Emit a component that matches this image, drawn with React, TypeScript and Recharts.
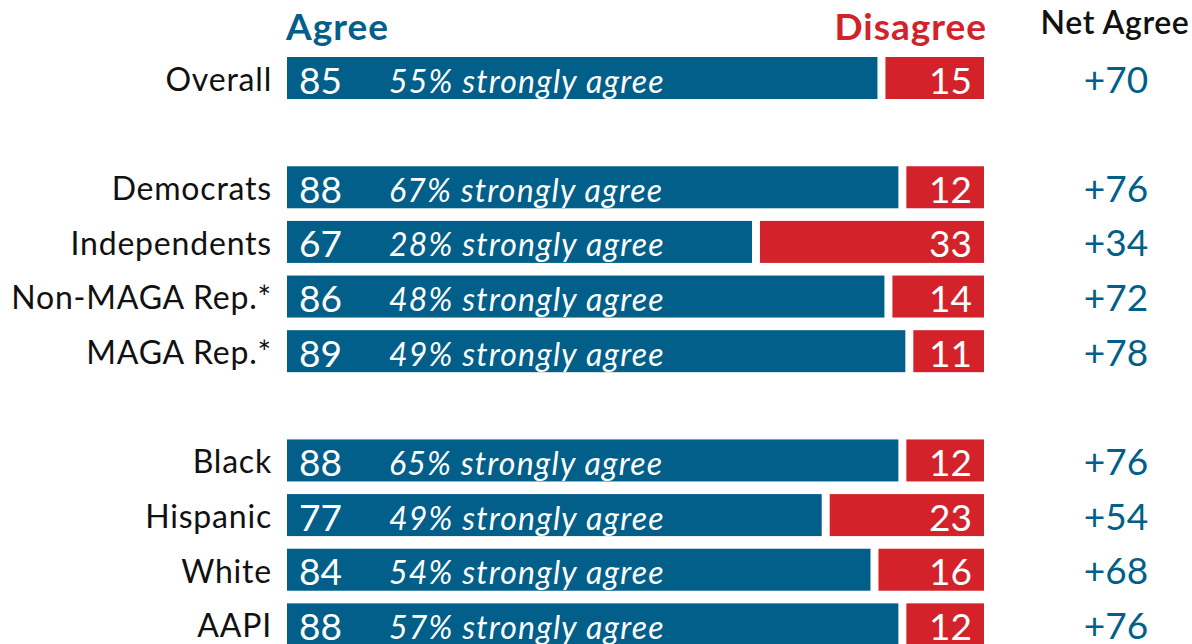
import React from "react";
import { BarChart, Bar, XAxis, YAxis, LabelList } from "recharts";

const categories = ["Overall", "", "Democrats", "Independents", "Non-MAGA Rep.*", "MAGA Rep.*", "", "Black", "Hispanic", "White", "AAPI"];
const agreeValues = [85, null, 88, 67, 86, 89, null, 88, 77, 84, 88];
const disagreeValues = [15, null, 12, 33, 14, 11, null, 12, 23, 16, 12];
const stronglyAgree = [55, null, 67, 28, 48, 49, null, 65, 49, 54, 57];
const netAgree = [70, null, 76, 34, 72, 78, null, 76, 54, 68, 76];

const BLUE = "#025f8a";
const RED = "#d32229";
const FONT = "Lato, 'Open Sans', sans-serif";

const data = categories.map((c, i) => ({
  key: c === "" ? `gap${i}` : c,
  label: c,
  agree: agreeValues[i],
  disagree: disagreeValues[i],
  strong: stronglyAgree[i],
  net: netAgree[i],
}));

const AgreeShape = (props: any) => {
  const { x, y, width, height } = props;
  if (!width || width <= 0) return null;
  return <rect x={x} y={y} width={Math.max(0, width - 2)} height={height} fill={BLUE} />;
};

const DisagreeShape = (props: any) => {
  const { x, y, width, height } = props;
  if (!width || width <= 0) return null;
  return <rect x={x + 6} y={y} width={Math.max(0, width - 6)} height={height} fill={RED} />;
};

const CatTick = (props: any) => {
  const { x, y, payload } = props;
  const row = data.find((d) => d.key === payload.value);
  const label = row ? row.label : "";
  return (
    <text x={x - 7} y={y} textAnchor="end" dominantBaseline="central" fontFamily={FONT} fontSize={32} letterSpacing={0.8} fill="#111">
      {label}
    </text>
  );
};

const AgreeLabel = (props: any) => {
  const { x, y, height, value, index } = props;
  if (value == null) return null;
  const cy = y + height / 2;
  return (
    <g>
      <text x={x + 12} y={cy + 1} textAnchor="start" dominantBaseline="central" fontFamily={FONT} fontSize={37} fill="#fff">
        {value}
      </text>
      <text x={x + 102} y={cy + 2} textAnchor="start" dominantBaseline="central" fontFamily={FONT} fontStyle="italic" fontSize={32} letterSpacing={1.2} fill="#fff">
        {`${data[index].strong}% strongly agree`}
      </text>
    </g>
  );
};

const DisagreeLabel = (props: any) => {
  const { x, y, width, height, value, index } = props;
  if (value == null) return null;
  const cy = y + height / 2;
  return (
    <g>
      <text x={x + width - 12} y={cy + 1} textAnchor="end" dominantBaseline="central" fontFamily={FONT} fontSize={37} fill="#fff">
        {value}
      </text>
      <text x={x + width + 132} y={cy} textAnchor="middle" dominantBaseline="central" fontFamily={FONT} fontSize={37} fill={BLUE}>
        {`+${data[index].net}`}
      </text>
    </g>
  );
};

export default function App() {
  return (
    <div style={{ position: "absolute", left: 0, top: 0, width: 1192, height: 660, background: "#fff" }}>
      <div style={{ position: "absolute", left: 286, top: 3, fontFamily: FONT, fontWeight: 700, fontSize: 37, letterSpacing: 1, color: BLUE, lineHeight: "46px" }}>Agree</div>
      <div style={{ position: "absolute", right: 1192 - 987, top: 3, fontFamily: FONT, fontWeight: 700, fontSize: 37, letterSpacing: 1, color: RED, lineHeight: "46px" }}>Disagree</div>
      <div style={{ position: "absolute", left: 1015, width: 200, textAlign: "center", top: 1, fontFamily: FONT, fontWeight: 600, fontSize: 32, letterSpacing: 0.6, color: "#111", lineHeight: "42px" }}>Net Agree</div>
      <BarChart
        width={1192}
        height={660}
        data={data}
        layout="vertical"
        margin={{ top: 51, right: 208, bottom: 8, left: 0 }}
        barSize={42}
      >
        <XAxis type="number" domain={[0, 100]} hide />
        <YAxis type="category" dataKey="key" width={287} tickLine={false} axisLine={false} tick={<CatTick />} interval={0} />
        <Bar dataKey="agree" stackId="s" fill={BLUE} shape={<AgreeShape />} isAnimationActive={false}>
          <LabelList dataKey="agree" content={<AgreeLabel />} />
        </Bar>
        <Bar dataKey="disagree" stackId="s" fill={RED} shape={<DisagreeShape />} isAnimationActive={false}>
          <LabelList dataKey="disagree" content={<DisagreeLabel />} />
        </Bar>
      </BarChart>
    </div>
  );
}
